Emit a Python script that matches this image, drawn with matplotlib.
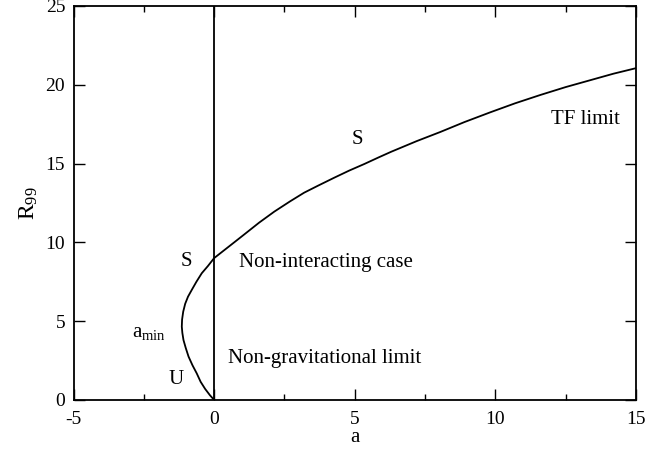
import matplotlib
matplotlib.use('Agg')
import matplotlib.pyplot as plt
from matplotlib.ticker import MultipleLocator

plt.rcParams['font.family'] = ['Liberation Serif', 'DejaVu Serif']
plt.rcParams['mathtext.fontset'] = 'custom'
plt.rcParams['mathtext.rm'] = 'Liberation Serif'
plt.rcParams['mathtext.it'] = 'Liberation Serif'
plt.rcParams['axes.unicode_minus'] = False

# curve: scattering length a vs R_99
a_vals = [0.0, -0.15, -0.32, -0.48, -0.62, -0.77, -0.91, -1.01, -1.09, -1.13,
          -1.15, -1.14, -1.1, -1.03, -0.93, -0.79, -0.63, -0.44, -0.22, 0.0,
          0.25, 0.5, 0.75, 1.07, 1.6, 2.14, 2.7, 3.2, 3.7, 4.27, 4.8, 5.34,
          5.85, 6.3, 7.2, 8.04, 8.9, 9.82, 10.7, 11.6, 12.5, 13.4, 14.2, 15.0]
r_vals = [0.0, 0.3, 0.7, 1.15, 1.69, 2.2, 2.75, 3.3, 3.8, 4.25,
          4.65, 5.1, 5.6, 6.1, 6.55, 7.0, 7.5, 8.04, 8.5, 9.0,
          9.35, 9.7, 10.05, 10.5, 11.25, 11.95, 12.6, 13.15, 13.6, 14.1, 14.55, 14.97,
          15.39, 15.75, 16.42, 17.0, 17.63, 18.25, 18.82, 19.35, 19.85, 20.3, 20.7, 21.05]

fig, ax = plt.subplots(figsize=(6.45, 4.55), dpi=100)
fig.subplots_adjust(left=0.114, right=0.986, top=0.987, bottom=0.121)

ax.plot(a_vals, r_vals, color='black', linewidth=1.3)
ax.axvline(0, color='black', linewidth=1.3)

ax.set_xlim(-5, 15)
ax.set_ylim(0, 25)
ax.xaxis.set_major_locator(MultipleLocator(5))
ax.xaxis.set_minor_locator(MultipleLocator(2.5))
ax.yaxis.set_major_locator(MultipleLocator(5))
ax.tick_params(which='both', direction='in', top=True, right=True, labelsize=14)
ax.tick_params(axis='x', pad=8)
ax.tick_params(axis='y', pad=6)
ax.tick_params(which='major', length=8, width=1)
ax.tick_params(which='minor', length=4, width=1)
for s in ax.spines.values():
    s.set_linewidth(1.3)

ax.set_xlabel('a', fontsize=15, labelpad=0)
ax.set_ylabel(r'R$_{99}$', fontsize=17, labelpad=4)

fs = 15
ax.text(5.1, 16.5, 'S', fontsize=fs, ha='center', va='center')
ax.text(13.2, 17.8, 'TF limit', fontsize=fs, ha='center', va='center')
ax.text(-1.0, 8.8, 'S', fontsize=fs, ha='center', va='center')
ax.text(0.9, 8.75, 'Non-interacting case', fontsize=fs, ha='left', va='center')
ax.text(-2.3, 4.3, r'a$_{\mathrm{min}}$', fontsize=fs, ha='center', va='center')
ax.text(-1.35, 1.3, 'U', fontsize=fs, ha='center', va='center')
ax.text(0.5, 2.65, 'Non-gravitational limit', fontsize=fs, ha='left', va='center')

fig.savefig('out.png', dpi=100)
